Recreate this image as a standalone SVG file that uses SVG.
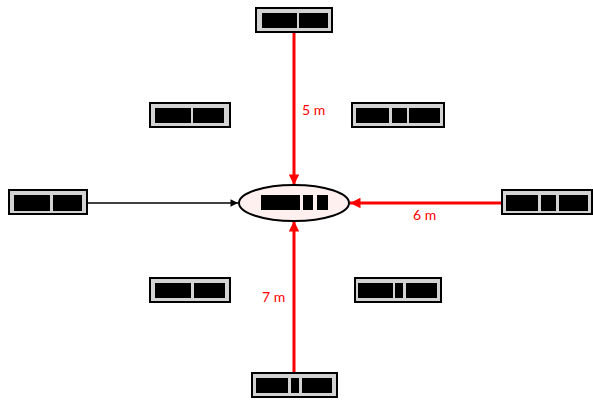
<svg xmlns="http://www.w3.org/2000/svg" width="593" height="404" viewBox="0 0 593 404">
<defs>
<style>
.box{fill:#d3d3d3;stroke:#000;stroke-width:2}
.blk{fill:#000}
.ell{fill:#fff0f0;stroke:#000;stroke-width:2}
.red{stroke:#ff0000;stroke-width:3;fill:none}
.blkline{stroke:#000;stroke-width:1.5;fill:none}
.lbl{font-family:Lato,"DejaVu Sans",sans-serif;font-size:14px;fill:#ff0000}
</style>
<marker id="ar" viewBox="0 0 10 10" refX="10" refY="5" markerWidth="4" markerHeight="3.5" markerUnits="strokeWidth" orient="auto">
<path d="M0,0 L10,5 L0,10 z" fill="#ff0000"/>
</marker>
<marker id="ab" viewBox="0 0 10 10" refX="10" refY="5" markerWidth="7" markerHeight="5" markerUnits="strokeWidth" orient="auto">
<path d="M0,0 L10,5 L0,10 z" fill="#000"/>
</marker>
</defs>
<g id="connectors">
<line class="red" x1="294" y1="33" x2="294" y2="185" marker-end="url(#ar)"/>
<text class="lbl" x="302" y="115">5 m</text>
<line class="red" x1="501" y1="203" x2="350" y2="203" marker-end="url(#ar)"/>
<text class="lbl" x="413" y="220">6 m</text>
<line class="red" x1="294" y1="372" x2="294" y2="221" marker-end="url(#ar)"/>
<text class="lbl" x="262" y="302">7 m</text>
<line class="blkline" x1="87" y1="203" x2="238" y2="203" marker-end="url(#ab)"/>
</g>
<g id="center">
<ellipse class="ell" cx="294" cy="203" rx="55" ry="18"/>
<rect class="blk" x="261" y="195" width="39" height="15"/>
<rect class="blk" x="303" y="195" width="10" height="15"/>
<rect class="blk" x="317" y="195" width="11" height="15"/>
</g>
<g id="top">
<rect class="box" x="256" y="8" width="76" height="24"/>
<rect class="blk" x="262" y="13" width="35" height="15"/>
<rect class="blk" x="299" y="13" width="29" height="15"/>
</g>
<g id="left">
<rect class="box" x="9" y="190" width="78" height="24"/>
<rect class="blk" x="14" y="195" width="36" height="16"/>
<rect class="blk" x="53" y="195" width="29" height="16"/>
</g>
<g id="upperleft">
<rect class="box" x="150" y="103" width="80" height="24"/>
<rect class="blk" x="155" y="108" width="36" height="15"/>
<rect class="blk" x="193" y="108" width="31" height="15"/>
</g>
<g id="lowerleft">
<rect class="box" x="150" y="278" width="80" height="24"/>
<rect class="blk" x="155" y="283" width="36" height="15"/>
<rect class="blk" x="194" y="283" width="31" height="15"/>
</g>
<g id="upperright">
<rect class="box" x="352" y="103" width="92" height="24"/>
<rect class="blk" x="356" y="108" width="33" height="15"/>
<rect class="blk" x="392" y="108" width="15" height="15"/>
<rect class="blk" x="409" y="108" width="31" height="15"/>
</g>
<g id="lowerright">
<rect class="box" x="355" y="278" width="86" height="24"/>
<rect class="blk" x="358" y="283" width="35" height="15"/>
<rect class="blk" x="395" y="283" width="8" height="15"/>
<rect class="blk" x="406" y="283" width="31" height="15"/>
</g>
<g id="right">
<rect class="box" x="502" y="190" width="90" height="24"/>
<rect class="blk" x="506" y="195" width="32" height="16"/>
<rect class="blk" x="541" y="195" width="15" height="16"/>
<rect class="blk" x="559" y="195" width="29" height="16"/>
</g>
<g id="bottom">
<rect class="box" x="252" y="373" width="85" height="24"/>
<rect class="blk" x="256" y="378" width="32" height="15"/>
<rect class="blk" x="291" y="378" width="8" height="15"/>
<rect class="blk" x="302" y="378" width="30" height="15"/>
</g>
</svg>
